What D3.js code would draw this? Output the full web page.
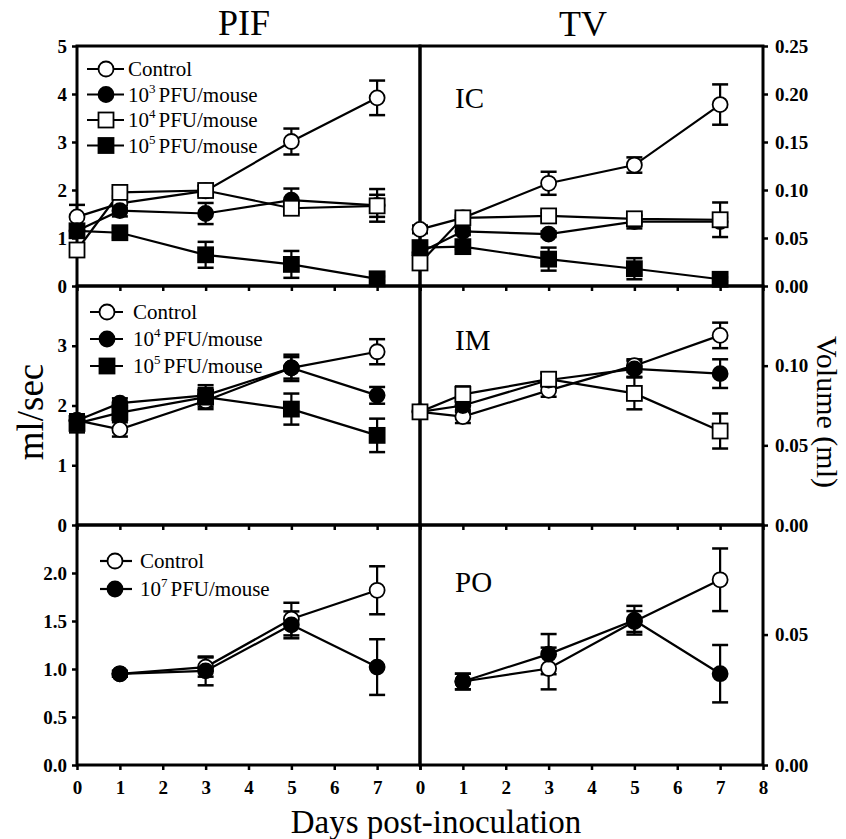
<!DOCTYPE html>
<html>
<head>
<meta charset="utf-8">
<script src="https://cdn.jsdelivr.net/npm/d3@7"></script>
<style>
  body { margin: 0; background: #fff; }
  svg text { font-family: "Liberation Serif", "Times New Roman", serif; fill: #000; }
</style>
</head>
<body>
<svg id="chart" width="846" height="839"></svg>
<script>
// days sampled
const daysIC = [0, 1, 3, 5, 7];
const daysPO = [1, 3, 5, 7];
const dayTicks = [0, 1, 2, 3, 4, 5, 6, 7, 8];

// PIF (ml/sec), IC route
const pifIcControl = [1.44, 1.72, 1.98, 3.01, 3.92];
const pifIcControlErr = [0.25, 0.1, 0.1, 0.27, 0.36];
const pifIc3 = [1.15, 1.57, 1.51, 1.79, 1.68];
const pifIc3Err = [0.12, 0.12, 0.22, 0.24, 0.34];
const pifIc4 = [0.75, 1.95, 1.99, 1.62, 1.67];
const pifIc4Err = [0.1, 0.08, 0.1, 0.1, 0.23];
const pifIc5 = [1.15, 1.11, 0.65, 0.45, 0.15];
const pifIc5Err = [0.1, 0.1, 0.27, 0.28, 0.05];

// TV (ml), IC route
const tvIcControl = [0.059, 0.071, 0.107, 0.126, 0.189];
const tvIcControlErr = [0.004, 0.003, 0.012, 0.008, 0.021];
const tvIc3 = [0.035, 0.057, 0.054, 0.067, 0.067];
const tvIc3Err = [0.004, 0.004, 0.003, 0.007, 0.004];
const tvIc4 = [0.024, 0.071, 0.073, 0.070, 0.069];
const tvIc4Err = [0.004, 0.003, 0.003, 0.003, 0.018];
const tvIc5 = [0.040, 0.041, 0.028, 0.018, 0.007];
const tvIc5Err = [0.004, 0.003, 0.012, 0.011, 0.002];

// PIF, IM route
const pifImControl = [1.75, 1.6, 2.08, 2.63, 2.9];
const pifImControlErr = [0.1, 0.12, 0.1, 0.18, 0.21];
const pifIm4 = [1.75, 2.04, 2.17, 2.63, 2.17];
const pifIm4Err = [0.1, 0.08, 0.12, 0.22, 0.14];
const pifIm5 = [1.7, 1.88, 2.14, 1.94, 1.5];
const pifIm5Err = [0.15, 0.1, 0.2, 0.26, 0.28];

// TV, IM route
const tvImControl = [0.071, 0.068, 0.0845, 0.100, 0.119];
const tvImControlErr = [0.003, 0.004, 0.004, 0.004, 0.008];
const tvIm4 = [0.071, 0.075, 0.091, 0.098, 0.095];
const tvIm4Err = [0.003, 0.004, 0.004, 0.005, 0.009];
const tvIm5 = [0.071, 0.082, 0.0915, 0.0826, 0.059];
const tvIm5Err = [0.003, 0.005, 0.004, 0.01, 0.011];

// PIF, PO route
const pifPoControl = [0.95, 1.02, 1.52, 1.82];
const pifPoControlErr = [0.03, 0.1, 0.17, 0.25];
const pifPo7 = [0.95, 0.98, 1.46, 1.02];
const pifPo7Err = [0.03, 0.15, 0.14, 0.29];

// TV, PO route
const tvPoControl = [0.032, 0.037, 0.055, 0.071];
const tvPoControlErr = [0.003, 0.008, 0.004, 0.012];
const tvPo7 = [0.032, 0.0425, 0.0555, 0.035];
const tvPo7Err = [0.003, 0.0077, 0.0055, 0.011];

// tick labels
const pifIcTicks = [0, 1, 2, 3, 4, 5];
const pifImTicks = [0, 1, 2, 3];
const pifPoTicks = [0, 0.5, 1.0, 1.5, 2.0];
const tvIcTicks = [0, 0.05, 0.10, 0.15, 0.20, 0.25];
const tvImTicks = [0, 0.05, 0.10];
const tvPoTicks = [0, 0.05];

const svg = d3.select("#chart");

const colX = [[77, 420], [420, 763]];
const rowY = [[286, 46], [525, 286], [765, 525]];

const s = (name, days, values, errs, shape, filled) => ({ name, days, values, errs, shape, filled });

const panels = [
  { row: 0, col: 0, domain: [0, 5], ticks: pifIcTicks, fmt: d3.format("d"),
    series: [
      s("Control", daysIC, pifIcControl, pifIcControlErr, "circle", false),
      s("3", daysIC, pifIc3, pifIc3Err, "circle", true),
      s("4", daysIC, pifIc4, pifIc4Err, "square", false),
      s("5", daysIC, pifIc5, pifIc5Err, "square", true)
    ],
    legend: { x0: 87, x1: 124, mx: 106, tx: 128, y: 69, dy: 25.5 } },
  { row: 0, col: 1, domain: [0, 0.25], ticks: tvIcTicks, fmt: d3.format(".2f"), label: "IC",
    series: [
      s("Control", daysIC, tvIcControl, tvIcControlErr, "circle", false),
      s("3", daysIC, tvIc3, tvIc3Err, "circle", true),
      s("4", daysIC, tvIc4, tvIc4Err, "square", false),
      s("5", daysIC, tvIc5, tvIc5Err, "square", true)
    ] },
  { row: 1, col: 0, domain: [0, 4], ticks: pifImTicks, fmt: d3.format("d"),
    series: [
      s("Control", daysIC, pifImControl, pifImControlErr, "circle", false),
      s("4", daysIC, pifIm4, pifIm4Err, "circle", true),
      s("5", daysIC, pifIm5, pifIm5Err, "square", true)
    ],
    legend: { x0: 90, x1: 123, mx: 107, tx: 133, y: 312, dy: 27 } },
  { row: 1, col: 1, domain: [0, 0.15], ticks: tvImTicks, fmt: d3.format(".2f"), label: "IM",
    series: [
      s("Control", daysIC, tvImControl, tvImControlErr, "circle", false),
      s("4", daysIC, tvIm4, tvIm4Err, "circle", true),
      s("5", daysIC, tvIm5, tvIm5Err, "square", false)
    ] },
  { row: 2, col: 0, domain: [0, 2.5], ticks: pifPoTicks, fmt: d3.format(".1f"), xLabels: [0, 1, 2, 3, 4, 5, 6, 7],
    series: [
      s("Control", daysPO, pifPoControl, pifPoControlErr, "circle", false),
      s("7", daysPO, pifPo7, pifPo7Err, "circle", true)
    ],
    legend: { x0: 100, x1: 132, mx: 115, tx: 140, y: 561, dy: 28 } },
  { row: 2, col: 1, domain: [0, 0.092], ticks: tvPoTicks, fmt: d3.format(".2f"), label: "PO", xLabels: dayTicks,
    series: [
      s("Control", daysPO, tvPoControl, tvPoControlErr, "circle", false),
      s("7", daysPO, tvPo7, tvPo7Err, "circle", true)
    ] }
];

function marker(g, shape, filled, x, y) {
  if (shape === "circle") {
    g.append("circle").attr("cx", x).attr("cy", y).attr("r", 7.5)
      .attr("fill", filled ? "#000" : "#fff").attr("stroke", "#000").attr("stroke-width", 1.8);
  } else {
    g.append("rect").attr("x", x - 7.5).attr("y", y - 7.5).attr("width", 15).attr("height", 15)
      .attr("fill", filled ? "#000" : "#fff").attr("stroke", "#000").attr("stroke-width", 1.8);
  }
}

panels.forEach(p => {
  const x = d3.scaleLinear().domain([0, 8]).range(colX[p.col]);
  const y = d3.scaleLinear().domain(p.domain).range(rowY[p.row]);
  const g = svg.append("g");

  // x ticks (pointing down)
  const xAxis = d3.axisBottom(x).tickValues(dayTicks).tickSize(5).tickSizeOuter(0).tickPadding(11)
    .tickFormat(d => p.xLabels && p.xLabels.includes(d) ? d : "");
  const gx = g.append("g").attr("transform", `translate(0,${y.range()[0]})`).call(xAxis);
  gx.select(".domain").remove();
  gx.selectAll("line").attr("stroke-width", 2.5);
  gx.selectAll("text").attr("font-size", 19).attr("font-weight", "bold");

  // y axis
  const yAxis = (p.col === 0 ? d3.axisLeft(y) : d3.axisRight(y))
    .tickValues(p.ticks).tickSize(5).tickSizeOuter(0).tickPadding(p.col === 0 ? 5 : 7).tickFormat(p.fmt);
  const gy = g.append("g").attr("transform", `translate(${p.col === 0 ? colX[0][0] : colX[1][1]},0)`).call(yAxis);
  gy.select(".domain").remove();
  gy.selectAll("line").attr("stroke-width", 2.5);
  gy.selectAll("text").attr("font-size", 19).attr("font-weight", "bold");

  // frame
  const [xa, xb] = x.range();
  const [yb, ya] = y.range();
  g.append("rect").attr("x", xa).attr("y", ya).attr("width", xb - xa).attr("height", yb - ya)
    .attr("fill", "none").attr("stroke", "#000").attr("stroke-width", 3);

  // error bars
  p.series.forEach(sr => {
    sr.days.forEach((d, i) => {
      const cx = x(d), lo = y(sr.values[i] - sr.errs[i]), hi = y(sr.values[i] + sr.errs[i]);
      g.append("line").attr("x1", cx).attr("x2", cx).attr("y1", lo).attr("y2", hi)
        .attr("stroke", "#000").attr("stroke-width", 2.2);
      [lo, hi].forEach(yy => g.append("line").attr("x1", cx - 8).attr("x2", cx + 8)
        .attr("y1", yy).attr("y2", yy).attr("stroke", "#000").attr("stroke-width", 2.5));
    });
  });

  // lines
  const line = d3.line().x(d => x(d[0])).y(d => y(d[1]));
  p.series.forEach(sr => {
    g.append("path").datum(sr.days.map((d, i) => [d, sr.values[i]]))
      .attr("d", line).attr("fill", "none").attr("stroke", "#000").attr("stroke-width", 2.2);
  });

  // markers
  p.series.forEach(sr => {
    sr.days.forEach((d, i) => marker(g, sr.shape, sr.filled, x(d), y(sr.values[i])));
  });

  // panel label
  if (p.label) {
    g.append("text").attr("x", 455).attr("y", ya + (p.row === 0 ? 62 : p.row === 1 ? 64 : 67))
      .attr("font-size", 29).text(p.label);
  }

  // legend
  if (p.legend) {
    const L = p.legend;
    p.series.forEach((sr, i) => {
      const ly = L.y + i * L.dy;
      g.append("line").attr("x1", L.x0).attr("x2", L.x1).attr("y1", ly).attr("y2", ly)
        .attr("stroke", "#000").attr("stroke-width", 2.2);
      marker(g, sr.shape, sr.filled, L.mx, ly);
      const t = g.append("text").attr("x", L.tx).attr("y", ly + 7).attr("font-size", 21);
      if (sr.name === "Control") {
        t.text("Control");
      } else {
        t.append("tspan").text("10");
        t.append("tspan").attr("font-size", 13).attr("dy", -9).text(sr.name);
        t.append("tspan").attr("dy", 9).attr("dx", 3).text("PFU/mouse");
      }
    });
  }
});

// titles and axis labels
svg.append("text").attr("x", 244).attr("y", 35).attr("text-anchor", "middle").attr("font-size", 36).text("PIF");
svg.append("text").attr("x", 583).attr("y", 36).attr("text-anchor", "middle").attr("font-size", 36).text("TV");
svg.append("text").attr("transform", "translate(43,412) rotate(-90)").attr("text-anchor", "middle")
  .attr("font-size", 37).text("ml/sec");
svg.append("text").attr("transform", "translate(817,412) rotate(90)").attr("text-anchor", "middle")
  .attr("font-size", 30).text("Volume (ml)");
svg.append("text").attr("x", 436).attr("y", 833).attr("text-anchor", "middle").attr("font-size", 33)
  .text("Days post-inoculation");
</script>
</body>
</html>
